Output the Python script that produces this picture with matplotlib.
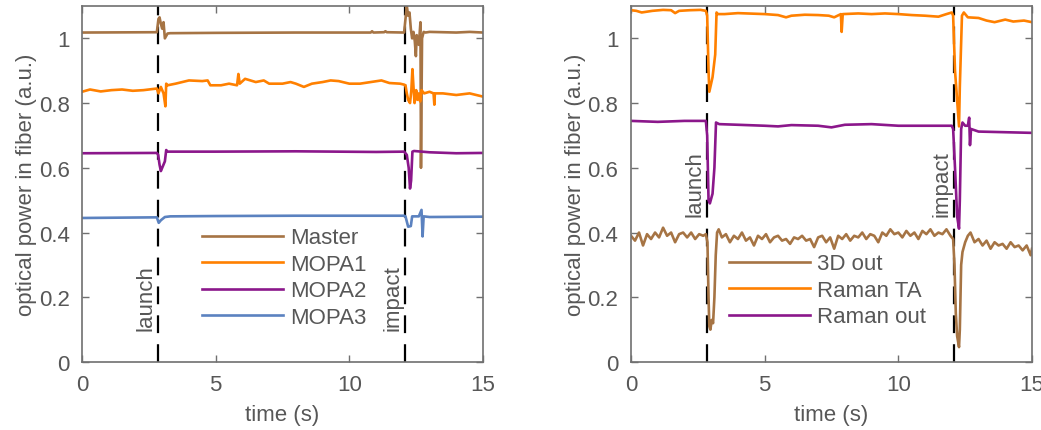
import numpy as np
import matplotlib
matplotlib.use("Agg")
import matplotlib.pyplot as plt

# =========================================================
# DATA
# =========================================================

t_launch = 2.84
t_impact = 12.08

# --- left panel ---
master_t = [0, 2.8, 2.86, 2.9, 2.95, 3.0, 3.05, 3.1, 3.2, 3.3, 5, 8, 10.8, 10.85, 10.9,
            11.3, 11.35, 11.4, 12.05, 12.1, 12.15, 12.2, 12.25, 12.3, 12.35, 12.4, 12.45,
            12.49, 12.52, 12.6, 12.66, 12.68, 12.72, 12.78, 12.85, 13.0, 13.5, 14, 14.5, 15]
master_y = [1.018, 1.019, 1.06, 1.065, 1.045, 1.03, 1.05, 1.0, 1.015, 1.016, 1.017, 1.018,
            1.018, 1.022, 1.018, 1.019, 1.022, 1.019, 1.018, 1.06, 1.1, 1.07, 1.08, 1.03,
            1.0, 1.02, 0.99, 0.945, 1.01, 0.98, 1.05, 0.6, 1.0, 1.02, 1.018, 1.02, 1.019,
            1.018, 1.02, 1.018]

mopa1_t = [0, 0.3, 0.7, 1.1, 1.5, 1.9, 2.3, 2.8, 2.86, 2.95, 3.05, 3.12, 3.15, 3.2, 3.5,
           4.0, 4.5, 4.7, 4.8, 5.2, 5.5, 5.8, 5.85, 5.9, 6.1, 6.5, 6.8, 7.0, 7.5, 7.8, 8.0,
           8.3, 8.6, 9.0, 9.3, 9.6, 10.0, 10.4, 10.8, 11.2, 11.5, 11.9, 12.05, 12.1, 12.15,
           12.2, 12.27, 12.32, 12.36, 12.4, 12.44, 12.5, 12.55, 12.6, 12.65, 12.7, 12.8,
           13.0, 13.15, 13.18, 13.2, 13.5, 14.0, 14.5, 15]
mopa1_y = [0.835, 0.842, 0.836, 0.84, 0.842, 0.838, 0.84, 0.845, 0.83, 0.85, 0.83, 0.79,
           0.86, 0.855, 0.86, 0.87, 0.868, 0.87, 0.855, 0.855, 0.86, 0.855, 0.89, 0.86,
           0.875, 0.865, 0.87, 0.86, 0.86, 0.865, 0.86, 0.85, 0.86, 0.865, 0.87, 0.868,
           0.86, 0.86, 0.865, 0.87, 0.862, 0.86, 0.857, 0.855, 0.83, 0.81, 0.8, 0.84, 0.905,
           0.85, 0.8, 0.84, 0.81, 0.83, 0.805, 0.84, 0.83, 0.835, 0.83, 0.795, 0.83, 0.83,
           0.825, 0.83, 0.82]

mopa2_t = [0, 2.8, 2.85, 2.9, 2.95, 3.0, 3.05, 3.1, 3.15, 3.2, 5, 8, 11, 12.05, 12.15,
           12.22, 12.27, 12.31, 12.36, 12.42, 13, 14, 15]
mopa2_y = [0.645, 0.646, 0.64, 0.61, 0.59, 0.6, 0.61, 0.62, 0.655, 0.65, 0.65, 0.651,
           0.649, 0.65, 0.64, 0.6, 0.536, 0.56, 0.65, 0.652, 0.648, 0.645, 0.646]

mopa3_t = [0, 2.8, 2.87, 2.95, 3.1, 3.3, 5, 8, 11, 12.05, 12.1, 12.2, 12.3, 12.35, 12.6,
           12.7, 12.74, 12.78, 13, 15]
mopa3_y = [0.445, 0.447, 0.43, 0.438, 0.448, 0.45, 0.451, 0.452, 0.452, 0.452, 0.45,
           0.418, 0.42, 0.45, 0.45, 0.47, 0.388, 0.45, 0.448, 0.449]

# --- right panel ---
ramanta_t = [0, 0.2, 0.4, 0.8, 1.2, 1.5, 1.65, 1.8, 2.2, 2.6, 2.8, 2.85, 2.9, 2.93, 3.05,
             3.15, 3.2, 3.25, 3.5, 4, 5, 5.5, 5.8, 6, 6.5, 7, 7.4, 7.6, 7.85, 7.88, 7.92,
             8.5, 9, 9.5, 10, 10.5, 11, 11.5, 11.8, 12.0, 12.05, 12.12, 12.27, 12.3, 12.38,
             12.45, 12.6, 13, 13.3, 13.6, 14, 14.3, 14.7, 15]
ramanta_y = [1.087, 1.085, 1.08, 1.085, 1.088, 1.087, 1.078, 1.085, 1.087, 1.088, 1.085,
             1.07, 0.9, 0.835, 0.88, 0.95, 1.08, 1.075, 1.075, 1.078, 1.075, 1.072, 1.065,
             1.07, 1.073, 1.072, 1.07, 1.065, 1.075, 1.02, 1.075, 1.077, 1.075, 1.077,
             1.075, 1.072, 1.07, 1.067, 1.075, 1.08, 1.07, 0.9, 0.728, 0.85, 1.07, 1.08,
             1.065, 1.063, 1.055, 1.05, 1.058, 1.052, 1.055, 1.05]

ramanout_t = [0, 1, 2, 2.8, 2.85, 2.9, 2.95, 3.05, 3.12, 3.18, 3.3, 4, 5, 5.5, 6, 7, 7.5,
              8, 9, 10, 11, 12, 12.05, 12.12, 12.2, 12.27, 12.3, 12.35, 12.4, 12.5, 12.6,
              12.65, 12.68, 12.72, 13, 14, 15]
ramanout_y = [0.745, 0.742, 0.745, 0.745, 0.7, 0.5, 0.49, 0.52, 0.6, 0.74, 0.735, 0.733,
              0.73, 0.728, 0.732, 0.73, 0.725, 0.733, 0.735, 0.73, 0.73, 0.73, 0.72, 0.6,
              0.45, 0.412, 0.5, 0.72, 0.74, 0.73, 0.73, 0.755, 0.67, 0.72, 0.712, 0.71, 0.708]

out3d_t = [0, 0.15, 0.3, 0.45, 0.6, 0.75, 0.9, 1.05, 1.2, 1.35, 1.5, 1.65, 1.8, 1.95, 2.1,
           2.25, 2.4, 2.55, 2.7, 2.8, 2.86, 2.9, 2.93, 2.97, 3.02, 3.07, 3.12, 3.17, 3.22,
           3.28, 3.4, 3.55, 3.7, 3.85, 4.0, 4.15, 4.3, 4.45, 4.6, 4.75, 4.9, 5.05, 5.2,
           5.35, 5.5, 5.65, 5.8, 5.95, 6.1, 6.25, 6.4, 6.55, 6.7, 6.85, 7.0, 7.15, 7.3,
           7.45, 7.6, 7.75, 7.9, 8.05, 8.2, 8.35, 8.5, 8.65, 8.8, 8.95, 9.1, 9.25, 9.4,
           9.55, 9.7, 9.85, 10.0, 10.15, 10.3, 10.45, 10.6, 10.75, 10.9, 11.05, 11.2,
           11.35, 11.5, 11.65, 11.8, 11.95, 12.05, 12.1, 12.15, 12.2, 12.27, 12.3, 12.35,
           12.4, 12.5, 12.6, 12.7, 12.85, 13.0, 13.15, 13.3, 13.45, 13.6, 13.75, 13.9,
           14.05, 14.2, 14.35, 14.5, 14.65, 14.8, 14.95, 15]
out3d_y = [0.39, 0.375, 0.40, 0.36, 0.395, 0.38, 0.40, 0.385, 0.415, 0.39, 0.40, 0.37,
           0.395, 0.40, 0.385, 0.40, 0.38, 0.395, 0.39, 0.395, 0.37, 0.2, 0.11, 0.10,
           0.13, 0.12, 0.2, 0.33, 0.40, 0.41, 0.385, 0.395, 0.37, 0.39, 0.38, 0.40, 0.375,
           0.385, 0.36, 0.39, 0.38, 0.395, 0.37, 0.385, 0.39, 0.375, 0.38, 0.365, 0.385,
           0.38, 0.39, 0.375, 0.38, 0.355, 0.385, 0.39, 0.37, 0.385, 0.35, 0.39, 0.38,
           0.395, 0.375, 0.39, 0.385, 0.40, 0.38, 0.395, 0.39, 0.37, 0.40, 0.39, 0.41,
           0.395, 0.40, 0.385, 0.405, 0.39, 0.40, 0.38, 0.405, 0.395, 0.41, 0.39, 0.40,
           0.395, 0.41, 0.39, 0.38, 0.3, 0.15, 0.08, 0.046, 0.1, 0.3, 0.34, 0.37, 0.39,
           0.40, 0.37, 0.38, 0.36, 0.375, 0.35, 0.37, 0.36, 0.365, 0.35, 0.37, 0.355,
           0.36, 0.345, 0.36, 0.33, 0.35]

# =========================================================
# STYLE
# =========================================================

c_brown = "#a67444"
c_orange = "#ff8000"
c_purple = "#8b178b"
c_blue = "#5b82c0"
c_axis = "#707070"
c_text = "#575757"
LW = 1.9
FS = 16

plt.rcParams["font.family"] = ["Liberation Sans", "DejaVu Sans"]
plt.rcParams["font.size"] = FS

fig = plt.figure(figsize=(10.41, 4.31), dpi=100)
ax1 = fig.add_axes([82 / 1041, 68 / 431, 401 / 1041, 356 / 431])
ax2 = fig.add_axes([631 / 1041, 68 / 431, 401 / 1041, 356 / 431])


def style_axes(ax):
    ax.set_xlim(0, 15)
    ax.set_ylim(0, 1.1)
    ax.set_xticks([0, 5, 10, 15])
    ax.set_yticks([0, 0.2, 0.4, 0.6, 0.8, 1.0])
    ax.set_yticklabels(["0", "0.2", "0.4", "0.6", "0.8", "1"])
    ax.tick_params(direction="in", top=True, right=True, length=5, width=1,
                   color=c_axis, labelcolor=c_text, labelsize=FS)
    ax.tick_params(axis="x", pad=9)
    ax.tick_params(axis="y", pad=9)
    for sp in ax.spines.values():
        sp.set_color(c_axis)
        sp.set_linewidth(1.2)
    ax.set_xlabel("time (s)", color=c_text, fontsize=FS, labelpad=6)
    ax.set_ylabel("optical power in fiber (a.u.)", color=c_text, fontsize=FS, labelpad=1)


def events(ax, y_text):
    for t, lab in [(t_launch, "launch"), (t_impact, "impact")]:
        ax.axvline(t, color="black", lw=1.6, dashes=(8, 5), zorder=1)
        ax.annotate(lab, (t, y_text), xytext=(-1, 0), textcoords="offset points",
                    rotation=90, ha="right", va="bottom", color=c_text, fontsize=FS)


# left panel
events(ax1, 0.10)
ax1.plot(master_t, master_y, color=c_brown, lw=LW, label="Master")
ax1.plot(mopa1_t, mopa1_y, color=c_orange, lw=LW, label="MOPA1")
ax1.plot(mopa2_t, mopa2_y, color=c_purple, lw=LW, label="MOPA2")
ax1.plot(mopa3_t, mopa3_y, color=c_blue, lw=LW, label="MOPA3")
style_axes(ax1)
leg1 = ax1.legend(loc="center left", bbox_to_anchor=(0.299, 0.237), frameon=False,
                  borderpad=0, borderaxespad=0, handlelength=3.65, handletextpad=0.3,
                  labelspacing=0.25, fontsize=FS)
for txt in leg1.get_texts():
    txt.set_color(c_text)

# right panel
events(ax2, 0.45)
ax2.plot(out3d_t, out3d_y, color=c_brown, lw=LW, label="3D out")
ax2.plot(ramanta_t, ramanta_y, color=c_orange, lw=LW, label="Raman TA")
ax2.plot(ramanout_t, ramanout_y, color=c_purple, lw=LW, label="Raman out")
style_axes(ax2)
leg2 = ax2.legend(loc="center left", bbox_to_anchor=(0.244, 0.201), frameon=False,
                  borderpad=0, borderaxespad=0, handlelength=3.65, handletextpad=0.3,
                  labelspacing=0.25, fontsize=FS)
for txt in leg2.get_texts():
    txt.set_color(c_text)

fig.savefig("out.png", dpi=100)
